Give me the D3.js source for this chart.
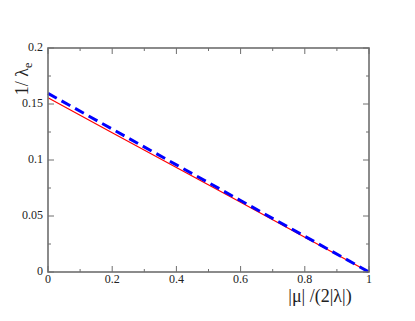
<!DOCTYPE html>
<html>
<head>
<meta charset="utf-8">
<script src="https://cdn.jsdelivr.net/npm/d3@7"></script>
<style>
  body { margin: 0; background: #fff; }
</style>
</head>
<body>
<svg id="chart" width="415" height="321"></svg>
<script>
// x values: |mu| / (2|lambda|)
const xs = [0, 0.2, 0.4, 0.6, 0.8, 1];
// red solid curve
const redVals = [0.1555, 0.1244, 0.0933, 0.0622, 0.0311, 0];
// blue dashed curve
const blueVals = [0.1595, 0.1276, 0.0957, 0.0638, 0.0319, 0];
const xTicks = [0, 0.2, 0.4, 0.6, 0.8, 1];
const yTicks = [0, 0.05, 0.1, 0.15, 0.2];

const serif = "'Liberation Serif', 'Times New Roman', 'DejaVu Serif', serif";
const svg = d3.select("#chart");
const mLeft = 48, mRight = 369, mTop = 48, mBottom = 272;

const x = d3.scaleLinear().domain([0, 1]).range([mLeft, mRight]);
const y = d3.scaleLinear().domain([0, 0.2]).range([mBottom, mTop]);

const axisColor = "#6e6e6e";

// minor ticks
const xMinor = [0.1, 0.3, 0.5, 0.7, 0.9];
const yMinor = [0.025, 0.075, 0.125, 0.175];

const g = svg.append("g");

// inward ticks on all four sides
function ticks(vals, len, isX) {
  vals.forEach(v => {
    if (isX) {
      g.append("line").attr("x1", x(v)).attr("x2", x(v)).attr("y1", mBottom).attr("y2", mBottom - len)
        .attr("stroke", axisColor).attr("stroke-width", 1);
      g.append("line").attr("x1", x(v)).attr("x2", x(v)).attr("y1", mTop).attr("y2", mTop + len)
        .attr("stroke", axisColor).attr("stroke-width", 1);
    } else {
      g.append("line").attr("y1", y(v)).attr("y2", y(v)).attr("x1", mLeft).attr("x2", mLeft + len)
        .attr("stroke", axisColor).attr("stroke-width", 1);
      g.append("line").attr("y1", y(v)).attr("y2", y(v)).attr("x1", mRight).attr("x2", mRight - len)
        .attr("stroke", axisColor).attr("stroke-width", 1);
    }
  });
}
ticks(xTicks, 6, true);
ticks(xMinor, 3, true);
ticks(yTicks, 6, false);
ticks(yMinor, 3, false);

// lines
const line = d3.line().x(d => x(d[0])).y(d => y(d[1]));

svg.append("path")
  .datum(xs.map((v, i) => [v, redVals[i]]))
  .attr("d", line)
  .attr("fill", "none")
  .attr("stroke", "#ff0000")
  .attr("stroke-width", 1.2);

svg.append("path")
  .datum(xs.map((v, i) => [v, blueVals[i]]))
  .attr("d", line)
  .attr("fill", "none")
  .attr("stroke", "#0000ff")
  .attr("stroke-width", 3)
  .attr("stroke-dasharray", "10,5.5");

// frame
svg.append("rect")
  .attr("x", mLeft).attr("y", mTop)
  .attr("width", mRight - mLeft).attr("height", mBottom - mTop)
  .attr("fill", "none")
  .attr("stroke", axisColor)
  .attr("stroke-width", 1.6);

// tick labels
svg.append("g").selectAll("text")
  .data(xTicks)
  .join("text")
  .attr("x", d => x(d))
  .attr("y", mBottom + 11)
  .attr("text-anchor", "middle")
  .attr("font-family", serif)
  .attr("font-size", 12)
  .attr("fill", "#222")
  .text(d => d3.format("")(d));

svg.append("g").selectAll("text")
  .data(yTicks)
  .join("text")
  .attr("x", mLeft - 5)
  .attr("y", d => y(d) + 3)
  .attr("text-anchor", "end")
  .attr("font-family", serif)
  .attr("font-size", 12)
  .attr("fill", "#222")
  .text(d => d3.format("")(d));

// axis titles
svg.append("text")
  .attr("x", 320)
  .attr("y", 302)
  .attr("text-anchor", "middle")
  .attr("font-family", serif)
  .attr("font-size", 18)
  .attr("fill", "#222")
  .text("|μ| /(2|λ|)");

const yl = svg.append("text")
  .attr("transform", "translate(28,79) rotate(-90)")
  .attr("text-anchor", "middle")
  .attr("font-family", serif)
  .attr("font-size", 18)
  .attr("fill", "#222");
yl.append("tspan").text("1/ ");
yl.append("tspan").text("λ");
yl.append("tspan").attr("font-size", 12).attr("dy", 4).text("e");
</script>
</body>
</html>
